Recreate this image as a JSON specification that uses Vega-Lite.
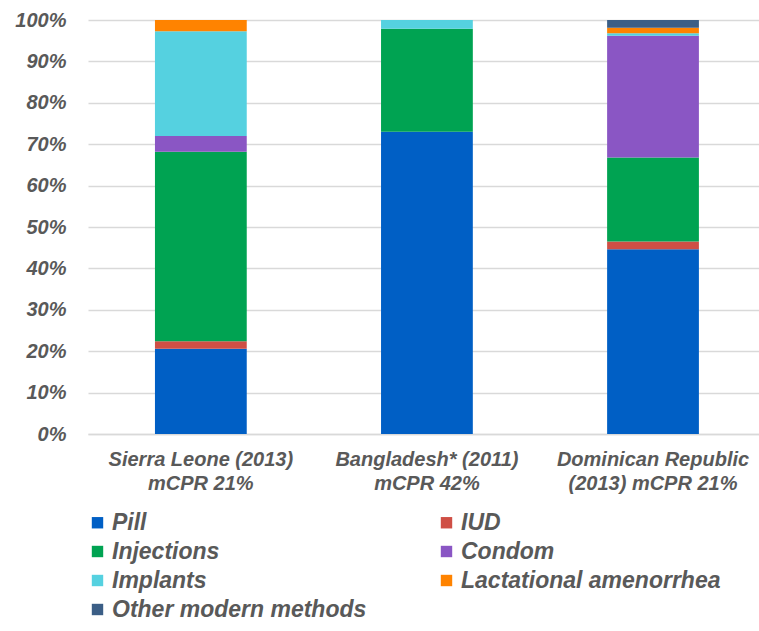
{
  "$schema": "https://vega.github.io/schema/vega-lite/v6.json",
  "width": 671,
  "height": 414,
  "autosize": {"type": "none"},
  "padding": {"left": 88, "top": 20, "right": 0, "bottom": 197},
  "background": "white",
  "data": {
    "values": [
      {"country": "Sierra Leone (2013)|mCPR 21%", "method": "Pill", "pct": 20.6},
      {"country": "Sierra Leone (2013)|mCPR 21%", "method": "IUD", "pct": 1.8},
      {"country": "Sierra Leone (2013)|mCPR 21%", "method": "Injections", "pct": 45.8},
      {"country": "Sierra Leone (2013)|mCPR 21%", "method": "Condom", "pct": 3.8},
      {"country": "Sierra Leone (2013)|mCPR 21%", "method": "Implants", "pct": 25.3},
      {"country": "Sierra Leone (2013)|mCPR 21%", "method": "Lactational amenorrhea", "pct": 2.7},
      {"country": "Bangladesh* (2011)|mCPR 42%", "method": "Pill", "pct": 73.0},
      {"country": "Bangladesh* (2011)|mCPR 42%", "method": "Injections", "pct": 24.9},
      {"country": "Bangladesh* (2011)|mCPR 42%", "method": "Implants", "pct": 2.1},
      {"country": "Dominican Republic|(2013) mCPR 21%", "method": "Pill", "pct": 44.6},
      {"country": "Dominican Republic|(2013) mCPR 21%", "method": "IUD", "pct": 1.9},
      {"country": "Dominican Republic|(2013) mCPR 21%", "method": "Injections", "pct": 20.3},
      {"country": "Dominican Republic|(2013) mCPR 21%", "method": "Condom", "pct": 29.4},
      {"country": "Dominican Republic|(2013) mCPR 21%", "method": "Implants", "pct": 0.6},
      {"country": "Dominican Republic|(2013) mCPR 21%", "method": "Lactational amenorrhea", "pct": 1.3},
      {"country": "Dominican Republic|(2013) mCPR 21%", "method": "Other modern methods", "pct": 1.9}
    ]
  },
  "transform": [
    {"calculate": "indexof(['Pill', 'IUD', 'Injections', 'Condom', 'Implants', 'Lactational amenorrhea', 'Other modern methods'], datum.method)", "as": "stackOrder"}
  ],
  "mark": {"type": "bar"},
  "encoding": {
    "x": {
      "field": "country",
      "type": "nominal",
      "sort": null,
      "title": null,
      "scale": {"paddingInner": 0.594, "paddingOuter": 0.281, "align": 0.527},
      "axis": {
        "labelExpr": "split(datum.label, '|')",
        "labelAngle": 0,
        "labelFont": "Liberation Sans",
        "labelFontSize": 20,
        "labelFontWeight": "bold",
        "labelFontStyle": "italic",
        "labelColor": "#595959",
        "labelLineHeight": 24,
        "labelPadding": 15,
        "ticks": false,
        "domainColor": "#D9D9D9",
        "domainWidth": 1.5,
        "labelLimit": 300
      }
    },
    "y": {
      "field": "pct",
      "type": "quantitative",
      "stack": "zero",
      "title": null,
      "scale": {"domain": [0, 100], "nice": false},
      "axis": {
        "values": [0, 10, 20, 30, 40, 50, 60, 70, 80, 90, 100],
        "labelExpr": "datum.value + '%'",
        "labelFont": "Liberation Sans",
        "labelFontSize": 20,
        "labelFontWeight": "bold",
        "labelFontStyle": "italic",
        "labelColor": "#595959",
        "labelPadding": 22,
        "ticks": false,
        "domain": false,
        "gridColor": "#D9D9D9",
        "gridWidth": 1.5
      }
    },
    "color": {
      "field": "method",
      "type": "nominal",
      "sort": ["Pill", "IUD", "Injections", "Condom", "Implants", "Lactational amenorrhea", "Other modern methods"],
      "scale": {
        "domain": ["Pill", "IUD", "Injections", "Condom", "Implants", "Lactational amenorrhea", "Other modern methods"],
        "range": ["#005FC5", "#CF4F45", "#00A352", "#8A56C4", "#55D1E0", "#FF8300", "#3B5E86"]
      },
      "legend": {
        "title": null,
        "orient": "none",
        "legendX": -2,
        "legendY": 491,
        "padding": 0,
        "columns": 2,
        "direction": "horizontal",
        "symbolType": "square",
        "symbolSize": 130,
        "symbolStrokeWidth": 0,
        "labelFont": "Liberation Sans",
        "labelFontSize": 23,
        "labelFontWeight": "bold",
        "labelFontStyle": "italic",
        "labelColor": "#595959",
        "labelOffset": 3,
        "labelLimit": 400,
        "rowPadding": 5,
        "columnPadding": 68
      }
    },
    "order": {"field": "stackOrder", "type": "quantitative", "sort": "ascending"}
  },
  "config": {"view": {"stroke": null}}
}
